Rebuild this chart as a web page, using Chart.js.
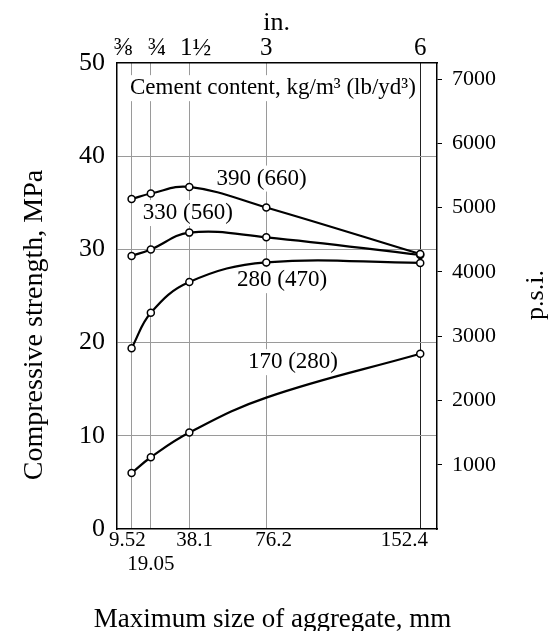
<!DOCTYPE html>
<html>
<head>
<meta charset="utf-8">
<script src="https://cdn.jsdelivr.net/npm/chart.js@4.4.1/dist/chart.umd.min.js"></script>
<style>
body { margin: 0; background: #fff; }
canvas { display: block; }
</style>
</head>
<body>
<canvas id="myChart" width="549" height="631"></canvas>
<script>
// aggregate sizes in mm, with the inch marks shown along the top
var sizesMm = [9.52, 19.05, 38.1, 76.2, 152.4];
var sizesIn = ['⅜', '¾', '1½', '3', '6'];
var mpaTicks = [0, 10, 20, 30, 40, 50];
var psiTicks = [1000, 2000, 3000, 4000, 5000, 6000, 7000];

// compressive strength, MPa, one list per cement content
var cementLabels = ['390 (660)', '330 (560)', '280 (470)', '170 (280)'];
var strength390 = [35.4, 36.0, 36.7, 34.5, 29.5];
var strength330 = [29.3, 30.0, 31.8, 31.3, 29.4];
var strength280 = [19.4, 23.2, 26.5, 28.6, 28.55];
var strength170 = [6.0, 7.7, 10.35, 14.1, 18.8];
// the 170 curve was not tested at 76.2 mm, so no marker there
var marked170 = [true, true, true, false, true];

var MPA_TO_PSI = 145.038;
var serif = "'Liberation Serif', 'Times New Roman', serif";
var xMin = 2.3, xMax = 160.7;

// small nudges so the crowded tick labels don't run into each other
var EN = '\u2002', THIN = '\u2009';
var topText = ['⅜' + EN + THIN, EN + '¾', EN + '1½', '3', '6'];
var bottomText = ['9.52' + THIN + THIN, ['', '19.05'], EN + '38.1', EN + THIN + '76.2', '152.4' + EN + EN + EN];

function points(values) {
    var pts = [];
    for (var i = 0; i < sizesMm.length; i++) {
        pts.push({x: sizesMm[i], y: values[i]});
    }
    return pts;
}

function curve(label, values, marked) {
    return {
        label: label,
        data: points(values),
        borderColor: '#000',
        borderWidth: 2.2,
        tension: 0.4,
        pointRadius: marked ? marked.map(function (m) { return m ? 3.5 : 0; }) : 3.5,
        pointBorderWidth: 1.5,
        pointBackgroundColor: '#fff',
        pointBorderColor: '#000'
    };
}

// text placed inside the plot, positions in mm / MPa
var notes = [
    {text: 'Cement content, kg/m³ (lb/yd³)', at: [79.5, 47.3]},
    {text: cementLabels[0], at: [73.9, 37.6]},
    {text: cementLabels[1], at: [37.4, 33.9]},
    {text: cementLabels[2], at: [84.0, 26.7]},
    {text: cementLabels[3], at: [89.4, 17.9]}
];

var labelsPlugin = {
    id: 'labelsPlugin',
    beforeDatasetsDraw: function (chart) {
        var c = chart.ctx, xs = chart.scales.x, ys = chart.scales.y;
        c.save();
        c.font = '23px ' + serif;
        c.textAlign = 'center';
        c.textBaseline = 'middle';
        notes.forEach(function (n) {
            var px = xs.getPixelForValue(n.at[0]);
            var py = ys.getPixelForValue(n.at[1]);
            var w = c.measureText(n.text).width;
            c.fillStyle = '#fff';
            c.fillRect(px - w / 2 - 1, py - 13, w + 2, 26);
            c.fillStyle = '#000';
            c.fillText(n.text, px, py);
        });
        c.restore();
    },
    afterDraw: function (chart) {
        var c = chart.ctx;
        c.save();
        c.fillStyle = '#000';
        c.textAlign = 'center';
        c.textBaseline = 'alphabetic';
        c.font = '27px ' + serif;
        c.fillText('Maximum size of aggregate, mm', 272.5, 626.5);
        c.font = '26px ' + serif;
        c.fillText('in.', 276.7, 30);

        c.save();
        c.translate(42, 325);
        c.rotate(-Math.PI / 2);
        c.font = '28px ' + serif;
        c.fillText('Compressive strength, MPa', 0, 0);
        c.restore();

        c.save();
        c.translate(543, 295);
        c.rotate(-Math.PI / 2);
        c.font = '26px ' + serif;
        c.fillText('p.s.i.', 0, 0);
        c.restore();
        c.restore();
    }
};

var ctx = document.getElementById('myChart').getContext('2d');
var myChart = new Chart(ctx, {
    type: 'line',
    data: {
        datasets: [
            curve(cementLabels[0], strength390),
            curve(cementLabels[1], strength330),
            curve(cementLabels[2], strength280),
            curve(cementLabels[3], strength170, marked170)
        ]
    },
    options: {
        responsive: false,
        animation: false,
        layout: {padding: 0},
        plugins: {legend: {display: false}, tooltip: {enabled: false}},
        scales: {
            x: {
                type: 'linear',
                position: 'bottom',
                min: xMin,
                max: xMax,
                afterBuildTicks: function (s) {
                    s.ticks = sizesMm.map(function (v) { return {value: v}; });
                },
                afterFit: function (s) { s.height = 102; },
                grid: {
                    drawTicks: false,
                    lineWidth: 1,
                    color: function (c) {
                        return c.tick && c.tick.value === 152.4 ? '#222' : '#9a9a9a';
                    }
                },
                border: {display: true, color: '#000', width: 1.5},
                ticks: {
                    padding: 0,
                    maxRotation: 0,
                    autoSkip: false,
                    color: '#000',
                    font: {family: serif, size: 21, lineHeight: 1.12},
                    callback: function (v) {
                        return bottomText[sizesMm.indexOf(v)];
                    }
                }
            },
            x2: {
                type: 'linear',
                position: 'top',
                min: xMin,
                max: xMax,
                afterBuildTicks: function (s) {
                    s.ticks = sizesMm.map(function (v) { return {value: v}; });
                },
                afterFit: function (s) { s.height = 63; },
                grid: {drawTicks: false, drawOnChartArea: false},
                border: {display: true, color: '#000', width: 1.5},
                ticks: {
                    padding: 0,
                    maxRotation: 0,
                    autoSkip: false,
                    color: '#000',
                    font: {family: serif, size: 25, lineHeight: 1.2},
                    callback: function (v) {
                        return topText[sizesMm.indexOf(v)];
                    }
                }
            },
            y: {
                type: 'linear',
                position: 'left',
                min: 0,
                max: 50,
                afterBuildTicks: function (s) {
                    s.ticks = mpaTicks.map(function (v) { return {value: v}; });
                },
                afterFit: function (s) { s.width = 117; },
                grid: {
                    drawTicks: false,
                    color: function (c) {
                        var v = c.tick && c.tick.value;
                        return v === 0 || v === 50 ? 'rgba(0,0,0,0)' : '#9a9a9a';
                    }
                },
                border: {display: true, color: '#000', width: 1.5},
                ticks: {
                    padding: 12,
                    color: '#000',
                    font: {family: serif, size: 26}
                }
            },
            psi: {
                type: 'linear',
                position: 'right',
                min: 0,
                max: 50 * MPA_TO_PSI,
                afterBuildTicks: function (s) {
                    s.ticks = psiTicks.map(function (v) { return {value: v}; });
                },
                afterFit: function (s) { s.width = 112; },
                grid: {drawOnChartArea: false, drawTicks: true, tickLength: 5, color: '#000', lineWidth: 1},
                border: {display: true, color: '#000', width: 1.5},
                ticks: {
                    padding: 10,
                    color: '#000',
                    font: {family: serif, size: 22},
                    callback: function (v) { return String(v); }
                }
            }
        }
    },
    plugins: [labelsPlugin]
});
</script>
</body>
</html>
